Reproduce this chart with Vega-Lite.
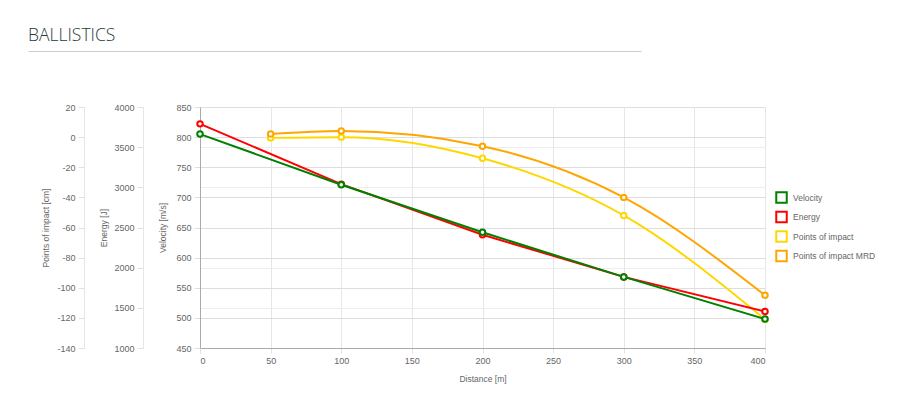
{
  "$schema": "https://vega.github.io/schema/vega-lite/v6.json",
  "autosize": {"type": "none"},
  "width": 565,
  "height": 241,
  "padding": {"left": 200, "top": 107, "right": 135, "bottom": 49},
  "background": "white",
  "title": {"text": "BALLISTICS", "anchor": "start", "frame": "group", "dx": -172, "dy": 17, "offset": 10, "baseline": "alphabetic", "font": "Open Sans", "fontSize": 17.5, "fontWeight": 300, "color": "#24383a"},
  "config": {
    "view": {"stroke": null},
    "axis": {"labelFont": "Liberation Sans", "titleFont": "Liberation Sans", "labelFontSize": 9, "titleFontSize": 8.5, "titleFontWeight": "normal", "labelColor": "#666", "titleColor": "#666", "tickColor": "#e0e0e0", "tickSize": 6, "labelPadding": 3, "titlePadding": 9},
    "legend": {"labelFont": "Liberation Sans", "labelFontSize": 8.5, "labelColor": "#666"}
  },
  "data": {"values": [
    {"series": "Velocity", "distance": 0, "value": 805},
    {"series": "Velocity", "distance": 100, "value": 721},
    {"series": "Velocity", "distance": 200, "value": 642},
    {"series": "Velocity", "distance": 300, "value": 568},
    {"series": "Velocity", "distance": 400, "value": 498},
    {"series": "Energy", "distance": 0, "value": 3790},
    {"series": "Energy", "distance": 100, "value": 3040},
    {"series": "Energy", "distance": 200, "value": 2410},
    {"series": "Energy", "distance": 300, "value": 1885},
    {"series": "Energy", "distance": 400, "value": 1455},
    {"series": "Points of impact", "distance": 50, "value": -0.5},
    {"series": "Points of impact", "distance": 100, "value": 0},
    {"series": "Points of impact", "distance": 200, "value": -14},
    {"series": "Points of impact", "distance": 300, "value": -52},
    {"series": "Points of impact", "distance": 400, "value": -121},
    {"series": "Points of impact MRD", "distance": 50, "value": 2},
    {"series": "Points of impact MRD", "distance": 100, "value": 4},
    {"series": "Points of impact MRD", "distance": 200, "value": -6},
    {"series": "Points of impact MRD", "distance": 300, "value": -40},
    {"series": "Points of impact MRD", "distance": 400, "value": -105}
  ]},
  "layer": [
    {
      "transform": [{"filter": "indexof(['Points of impact', 'Points of impact MRD'], datum.series) >= 0"}],
      "encoding": {
        "x": {"field": "distance", "type": "quantitative", "scale": {"domain": [0, 400], "nice": false}, "axis": null},
        "y": {"field": "value", "type": "quantitative", "scale": {"domain": [-140, 20], "nice": false, "zero": false},
          "axis": {"orient": "left", "offset": 116, "values": [-140, -120, -100, -80, -60, -40, -20, 0, 20], "labelExpr": "replace(datum.label, '−', '-')", "grid": false, "domainColor": "#e6e6e6", "title": "Points of impact [cm]", "titlePadding": 6}},
        "stroke": {"field": "series", "type": "nominal", "scale": {"domain": ["Velocity", "Energy", "Points of impact", "Points of impact MRD"], "range": ["#008000", "#ff0000", "#ffd700", "#ffa500"]},
          "legend": {"title": null, "orient": "none", "legendX": 575, "legendY": 84, "symbolType": "square", "symbolSize": 110, "symbolStrokeWidth": 2, "symbolFillColor": "white", "rowPadding": 0.5, "labelOffset": 5}}
      },
      "layer": [
        {"mark": {"type": "line", "strokeWidth": 2, "interpolate": "monotone"}},
        {"mark": {"type": "point", "filled": true, "fill": "white", "strokeWidth": 2, "size": 30, "opacity": 1}}
      ]
    },
    {
      "transform": [{"filter": "datum.series === 'Energy'"}],
      "encoding": {
        "x": {"field": "distance", "type": "quantitative", "scale": {"domain": [0, 400], "nice": false}, "axis": null},
        "y": {"field": "value", "type": "quantitative", "scale": {"domain": [1000, 4000], "nice": false, "zero": false},
          "axis": {"orient": "left", "offset": 57, "values": [1000, 1500, 2000, 2500, 3000, 3500, 4000], "format": "d", "grid": true, "gridColor": "#ededed", "domainColor": "#e6e6e6", "title": "Energy [J]", "titlePadding": 5}},
        "stroke": {"field": "series", "type": "nominal"}
      },
      "layer": [
        {"mark": {"type": "line", "strokeWidth": 2}},
        {"mark": {"type": "point", "filled": true, "fill": "white", "strokeWidth": 2, "size": 30, "opacity": 1}}
      ]
    },
    {
      "transform": [{"filter": "datum.series === 'Velocity'"}],
      "encoding": {
        "x": {"field": "distance", "type": "quantitative", "scale": {"domain": [0, 400], "nice": false},
          "axis": {"values": [0, 50, 100, 150, 200, 250, 300, 350, 400], "grid": true, "gridColor": "#e6e6e6", "domainColor": "#aaa", "tickSize": 5, "title": "Distance [m]", "titlePadding": 9}},
        "y": {"field": "value", "type": "quantitative", "scale": {"domain": [450, 850], "nice": false, "zero": false},
          "axis": {"orient": "left", "offset": 0, "values": [450, 500, 550, 600, 650, 700, 750, 800, 850], "grid": true, "gridColor": "#dedede", "domainColor": "#aaa", "title": "Velocity [m/s]", "titlePadding": 8}},
        "stroke": {"field": "series", "type": "nominal"}
      },
      "layer": [
        {"mark": {"type": "line", "strokeWidth": 2}},
        {"mark": {"type": "point", "filled": true, "fill": "white", "strokeWidth": 2, "size": 30, "opacity": 1}}
      ]
    },
    {
      "data": {"values": []},
      "mark": {"type": "rule"},
      "encoding": {
        "x": {"field": "d", "type": "quantitative", "scale": {"domain": [0, 1], "range": [-172, 441], "nice": false},
          "axis": {"orient": "top", "offset": 56, "labels": false, "ticks": false, "grid": false, "domainColor": "#cccccc", "domainWidth": 1, "title": null}}
      }
    }
  ],
  "resolve": {"scale": {"x": "independent", "y": "independent"}}
}
